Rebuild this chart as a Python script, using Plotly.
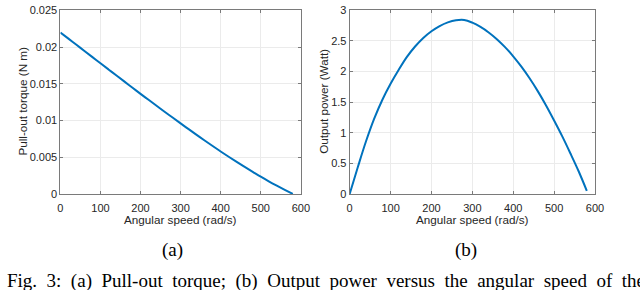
import plotly.graph_objects as go

# ---- data ----
speed = [0, 20, 40, 60, 80, 100, 120, 140, 160, 180, 200, 220, 240, 260, 280,
         300, 320, 340, 360, 380, 400, 420, 440, 460, 480, 500, 520, 540, 560, 580]
torque = [0.02200, 0.02116, 0.02032, 0.01948, 0.01864, 0.01780, 0.01696, 0.01612,
          0.01529, 0.01446, 0.01363, 0.01282, 0.01201, 0.01120, 0.01040, 0.00960,
          0.00882, 0.00805, 0.00728, 0.00652, 0.00578, 0.00506, 0.00436, 0.00367,
          0.00300, 0.00234, 0.00172, 0.00113, 0.00056, 0.00000]
power = [0.00, 0.44, 0.86, 1.23, 1.54, 1.80, 2.03, 2.24, 2.41, 2.55,
         2.66, 2.745, 2.805, 2.84, 2.845, 2.80, 2.73, 2.64, 2.53, 2.40,
         2.25, 2.08, 1.89, 1.68, 1.45, 1.20, 0.94, 0.66, 0.37, 0.05]

x_ticks = [0, 100, 200, 300, 400, 500, 600]
x_ticklabels = ["0", "100", "200", "300", "400", "500", "600"]
torque_ticks = [0, 0.005, 0.01, 0.015, 0.02, 0.025]
torque_ticklabels = ["0", "0.005", "0.01", "0.015", "0.02", "0.025"]
power_ticks = [0, 0.5, 1, 1.5, 2, 2.5, 3]
power_ticklabels = ["0", "0.5", "1", "1.5", "2", "2.5", "3"]

caption = "Fig. 3: (a) Pull-out torque; (b) Output power versus the angular speed of the"

W, H = 640, 290
LINE = "#0072BD"
FONT = "Liberation Sans, Arial, sans-serif"
SERIF = "Liberation Serif, Times New Roman, serif"

fig = go.Figure()
fig.add_trace(go.Scatter(x=speed, y=torque, mode="lines", xaxis="x", yaxis="y",
                         line=dict(color=LINE, width=2, shape="spline", smoothing=1.0),
                         showlegend=False, hoverinfo="skip"))
fig.add_trace(go.Scatter(x=speed, y=power, mode="lines", xaxis="x2", yaxis="y2",
                         line=dict(color=LINE, width=2, shape="spline", smoothing=1.0),
                         showlegend=False, hoverinfo="skip"))

ydom = [1 - 196 / H, 1 - 4.6 / H]
common = dict(showline=True, linecolor="#7a7a7a", linewidth=1, mirror="ticks",
              ticks="inside", ticklen=3, tickcolor="#7a7a7a",
              showgrid=True, gridcolor="#ebebeb", gridwidth=1, zeroline=False,
              ticklabeloverflow="allow",
              tickfont=dict(family=FONT, size=11, color="#262626"))

fig.update_layout(
    width=W, height=H, margin=dict(l=0, r=0, t=0, b=0),
    paper_bgcolor="white", plot_bgcolor="white",
    xaxis=dict(domain=[58.5 / W, 303.5 / W], range=[0, 600], tickvals=x_ticks,
               ticktext=x_ticklabels, anchor="y", ticklabelstandoff=4, **common),
    yaxis=dict(domain=ydom, range=[0, 0.025], tickvals=torque_ticks,
               ticktext=torque_ticklabels, anchor="x", **common),
    xaxis2=dict(domain=[353.3 / W, 603.3 / W], range=[0, 600], tickvals=x_ticks,
                ticktext=x_ticklabels, anchor="y2", ticklabelstandoff=4, **common),
    yaxis2=dict(domain=ydom, range=[0, 3], tickvals=power_ticks,
                ticktext=power_ticklabels, anchor="x2", **common),
)

def ann(text, x, y, size, family, angle=0, color="#262626"):
    fig.add_annotation(text=text, x=x / W, y=1 - y / H, xref="paper", yref="paper",
                       showarrow=False, textangle=angle, xanchor="center", yanchor="middle",
                       font=dict(family=family, size=size, color=color))

ann("Angular speed (rad/s)", 180.5, 223, 11.7, FONT)
ann("Angular speed (rad/s)", 478, 223, 11.7, FONT)
ann("Pull-out torque (N m)", 20, 99, 11.7, FONT, angle=-90)
ann("Output power (Watt)", 327, 99, 11.7, FONT, angle=-90)
ann("(a)", 172.5, 255, 19, SERIF, color="black")
ann("(b)", 472, 255, 19, SERIF, color="black")
fig.add_annotation(text=caption.replace(" ", "\u00a0\u00a0"),
                   x=2 / W, y=1 - 273 / H, xref="paper", yref="paper", showarrow=False,
                   xanchor="left", yanchor="top",
                   font=dict(family=SERIF, size=19, color="black"))

fig.write_html("out.html", config={"displayModeBar": False},
               post_script="document.body.style.margin='0px';document.body.style.overflow='hidden';")
